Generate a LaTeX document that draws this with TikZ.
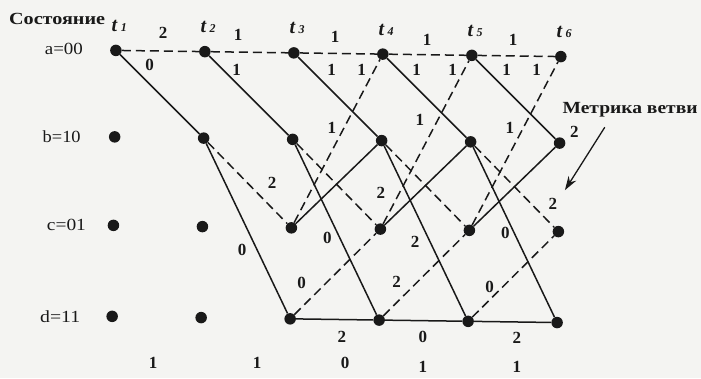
\documentclass[tikz,border=0pt]{standalone}
\usepackage{fontspec}
\setmainfont{Liberation Serif}
\usetikzlibrary{arrows.meta}
\definecolor{ink}{RGB}{25,25,25}
\definecolor{paper}{RGB}{244,244,242}
\begin{document}
\begin{tikzpicture}[x=1pt,y=-1pt,
  dot/.style={circle,fill=ink,inner sep=0pt,minimum size=11.5pt},
  sol/.style={draw=ink,line width=1.5pt},
  dsh/.style={draw=ink,line width=1.5pt,dash pattern=on 9pt off 5pt},
  lab/.style={text=ink,inner sep=0pt,font=\fontsize{17}{17}\selectfont\bfseries},
  state/.style={text=ink,inner sep=0pt,font=\fontsize{17}{17}\selectfont},
  head/.style={text=ink,inner sep=0pt,font=\fontsize{17}{17}\selectfont\bfseries},
  tlab/.style={text=ink,inner sep=0pt}
]
\fill[paper] (0,0) rectangle (701,378);
\useasboundingbox (0,0) rectangle (701,378);
\begin{scope}[rotate around={-0.8:(338,186)}]
% trellis nodes
\foreach \i/\x in {1/114,2/203,3/292,4/381,5/470,6/559}{
  \foreach \r/\y in {a/53.5,b/140,c/228.5,d/319.5}{
    \node[dot] (\r\i) at (\x,\y) {};
  }
  \node[tlab] (t\i) at (\x+3,29) {\fontsize{20}{20}\selectfont\bfseries\itshape t\hspace{3.5pt}\fontsize{12}{12}\selectfont\i};
}
% branches
\draw[dsh] (a1) -- (a2);
\draw[sol] (a1) -- (b2);
\draw[dsh] (a2) -- (a3);
\draw[sol] (a2) -- (b3);
\draw[dsh] (b2) -- (c3);
\draw[sol] (b2) -- (d3);
\foreach \i/\j in {3/4,4/5,5/6}{
  \draw[dsh] (a\i) -- (a\j);
  \draw[sol] (a\i) -- (b\j);
  \draw[dsh] (b\i) -- (c\j);
  \draw[sol] (b\i) -- (d\j);
  \draw[dsh] (c\i) -- (a\j);
  \draw[sol] (c\i) -- (b\j);
  \draw[dsh] (d\i) -- (c\j);
  \draw[sol] (d\i) -- (d\j);
}
% state labels
\node[head,anchor=east] (hdr) at (103,22) {\resizebox{96pt}{\height}{Состояние}};
\node[state] (sa) at (62,53) {\resizebox{38pt}{\height}{a=00}};
\node[state] (sb) at (61,140.5) {\resizebox{38pt}{\height}{b=10}};
\node[state] (sc) at (67,228.5) {\resizebox{39pt}{\height}{c=01}};
\node[state] (sd) at (62,320.5) {\resizebox{40pt}{\height}{d=11}};
% branch metrics
\node[lab] (m1) at (161,35) {2};
\node[lab] (m2) at (236,36) {1};
\node[lab] (m3) at (333,37) {1};
\node[lab] (m4) at (425,38.5) {1};
\node[lab] (m5) at (511,37.5) {1};
\node[lab] (m6) at (148,67.5) {0};
\node[lab] (m7) at (235,71) {1};
\node[lab] (m8) at (330,70) {1};
\node[lab] (m9) at (415,69) {1};
\node[lab] (m10) at (505,67.5) {1};
\node[lab] (m11) at (360,69.5) {1};
\node[lab] (m12) at (451,68.5) {1};
\node[lab] (m13) at (535,67) {1};
\node[lab] (m14) at (331,128) {1};
\node[lab] (m15) at (419,119) {1};
\node[lab] (m16) at (509,125.5) {1};
\node[lab] (m17) at (272,184) {2};
\node[lab] (m18) at (381,192.5) {2};
\node[lab] (m19) at (553,201) {2};
\node[lab] (m20) at (243,251) {0};
\node[lab] (m21) at (328,238) {0};
\node[lab] (m22) at (416,241) {2};
\node[lab] (m23) at (506,230.5) {0};
\node[lab] (m24) at (303,283.5) {0};
\node[lab] (m25) at (398,281) {2};
\node[lab] (m26) at (491,285) {0};
\node[lab] (m27) at (344,337) {2};
\node[lab] (m28) at (425,336) {0};
\node[lab] (m29) at (519,335.5) {2};
\node[lab] (m30) at (573.5,128.5) {2};
% bottom row
\node[lab] (z1) at (155.5,365.5) {1};
\node[lab] (z2) at (259.5,364) {1};
\node[lab] (z3) at (347.5,363) {0};
\node[lab] (z4) at (425.5,365.5) {1};
\node[lab] (z5) at (519.5,364.5) {1};
% branch-metric callout
\node[head] (metr) at (629,106) {\resizebox{135pt}{\height}{Метрика ветви}};
\coordinate (ms) at (604,123.5);
\coordinate (me) at (565,187);
\draw[ink,line width=1.3pt,-{Stealth[length=14pt,width=9pt]}] (ms) -- (me);
\end{scope}
\end{tikzpicture}
\end{document}
